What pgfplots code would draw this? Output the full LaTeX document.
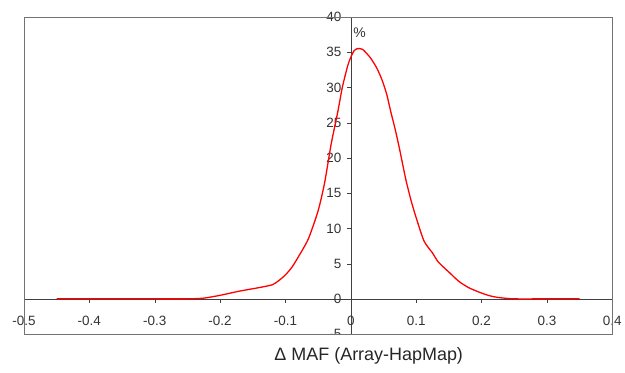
\documentclass[border=0pt]{standalone}
\usepackage{pgfplots}
\pgfplotsset{compat=1.18}
\usepackage{fontspec}
\setmainfont{Liberation Sans}
\begin{document}
\begin{tikzpicture}
\begin{axis}[
  scale only axis, width=590pt, height=318pt,
  xmin=-0.5, xmax=0.4, ymin=-5, ymax=40,
  axis lines=middle,
  axis line style={black!75, -},
  hide obscured x ticks=false, hide obscured y ticks=false,
  xtick={-0.5,-0.4,-0.3,-0.2,-0.1,0,0.1,0.2,0.3,0.4},
  xticklabels={-0.5,-0.4,-0.3,-0.2,-0.1,0,0.1,0.2,0.3,0.4},
  ytick={-5,0,5,10,15,20,25,30,35,40},
  yticklabels={-5,0,5,10,15,20,25,30,35,40},
  tick align=outside, major tick length=4pt,
  tick style={black!75},
  tick label style={font=\fontsize{13.5}{16}\selectfont, text=black!80},
  xticklabel style={yshift=-10pt},
  yticklabel style={xshift=-2pt},
  xlabel={Δ MAF (Array-HapMap)},
  xlabel style={at={(axis description cs:0.586,0)}, anchor=center, yshift=-22pt, font=\fontsize{18}{20}\selectfont, text=black!85},
  clip=false,
]
\addplot[red, line width=1.3pt, smooth, tension=0.4] coordinates {
(-0.45,0) (-0.4,0) (-0.3,0) (-0.25,0) (-0.225,0.1) (-0.2,0.5) (-0.17,1.1)
(-0.14,1.6) (-0.12,2.0) (-0.11,2.6) (-0.1,3.4) (-0.09,4.5) (-0.08,6.0)
(-0.065,8.5) (-0.05,12.5) (-0.04,16.5) (-0.03,22) (-0.02,26.5) (-0.013,30)
(-0.005,33) (0,34.3) (0.005,35.2) (0.01,35.5) (0.018,35.4) (0.03,34.2)
(0.04,32.7) (0.048,31) (0.055,29) (0.061,26.6) (0.068,24) (0.074,21.5)
(0.084,17) (0.092,14) (0.1,11.5) (0.112,8.2) (0.125,6.5) (0.134,5.2)
(0.15,3.8) (0.165,2.5) (0.18,1.6) (0.195,1.0) (0.21,0.5) (0.225,0.2)
(0.25,0) (0.3,0) (0.35,0)
};
\node[anchor=west, font=\fontsize{14}{16}\selectfont, text=black!80, inner sep=1pt] at (axis cs:0.002,37.8) {\%};
\draw[black!55] (rel axis cs:0,0) rectangle (rel axis cs:1,1);
\coordinate (sw) at (rel axis cs:0,0);
\coordinate (ne) at (rel axis cs:1,1);
\coordinate (ma) at (axis cs:-0.07,-5);
\coordinate (mb) at (axis cs:0,-5);
\end{axis}
\fill[white] ([yshift=-0.5pt]ma) rectangle ([yshift=-12pt]mb);
\path (sw) ++(-24pt,-39pt);
\path (ne) ++(11pt,17pt);
\end{tikzpicture}
\end{document}
